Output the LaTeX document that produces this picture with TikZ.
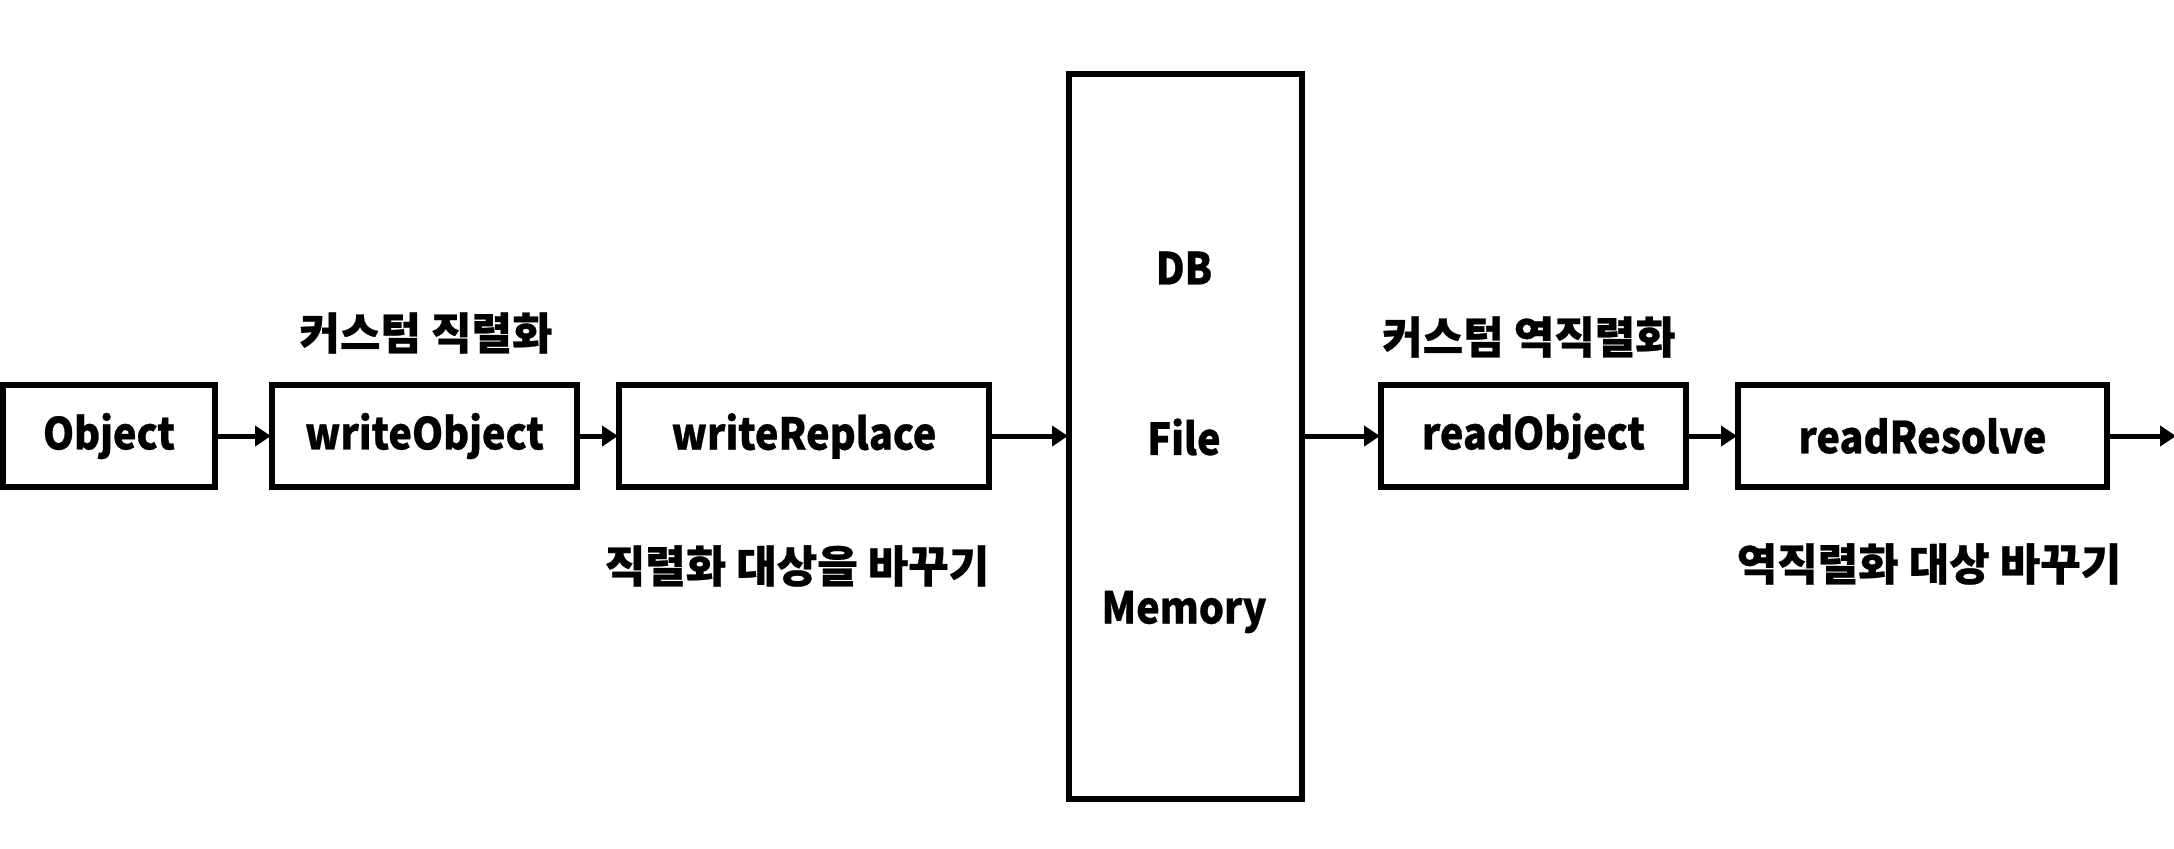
\documentclass[tikz,border=0pt]{standalone}
\usepackage{fontspec}
\setmainfont{Noto Sans CJK KR}
\newfontfamily\narrowfont{Noto Sans CJK KR}[FakeStretch=0.9, FakeBold=0.6]
\newfontfamily\heavyfont{Noto Sans CJK KR}[FakeBold=0.6]
\usetikzlibrary{arrows.meta}
\tikzset{
  stepbox/.style={draw=black, line width=3pt, inner sep=0pt, font=\narrowfont\bfseries\fontsize{22}{26}\selectfont, minimum height=51pt},
  lbl/.style={inner sep=0pt, font=\narrowfont\bfseries\fontsize{22}{26}\selectfont},
  krlbl/.style={inner sep=0pt, font=\heavyfont\bfseries\fontsize{22}{26}\selectfont},
  flow/.style={line width=2.5pt, -{Triangle[length=8pt,width=10pt]}, shorten >=-1pt}
}
\begin{document}
\begin{tikzpicture}[x=0.5pt,y=-0.5pt]
\fill[white] (0,0) rectangle (2174,848);
\useasboundingbox (0,0) rectangle (2174,848);
\node[stepbox, minimum width=106pt] (obj) at (109,436) {Object};
\node[stepbox, minimum width=152.5pt] (wobj) at (424.5,436) {writeObject};
\node[stepbox, minimum width=185pt] (wrep) at (804,436) {writeReplace};
\node[stepbox, minimum width=116.5pt, minimum height=362.5pt] (store) at (1185.5,436.5) {};
\node[lbl] (db) at (1184,268) {DB};
\node[lbl] (file) at (1184,437) {File};
\node[lbl] (mem) at (1184,612) {Memory};
\node[stepbox, minimum width=152.5pt] (robj) at (1533.5,436) {readObject};
\node[stepbox, minimum width=184.5pt] (rres) at (1922.5,436) {readResolve};
\coordinate (out) at (2174,436);
\node[krlbl] (cser) at (426,333) {커스텀 직렬화};
\node[krlbl] (rser) at (797,566) {직렬화 대상을 바꾸기};
\node[krlbl] (cdes) at (1529,337) {커스텀 역직렬화};
\node[krlbl] (rdes) at (1929,564) {역직렬화 대상 바꾸기};
\draw[flow] (obj.east) -- (wobj.west);
\draw[flow] (wobj.east) -- (wrep.west);
\draw[flow] (wrep.east) -- (wrep.east -| store.west);
\draw[flow] (store.east |- robj.west) -- (robj.west);
\draw[flow] (robj.east) -- (rres.west);
\draw[flow] (rres.east) -- (out);
\end{tikzpicture}
\end{document}
